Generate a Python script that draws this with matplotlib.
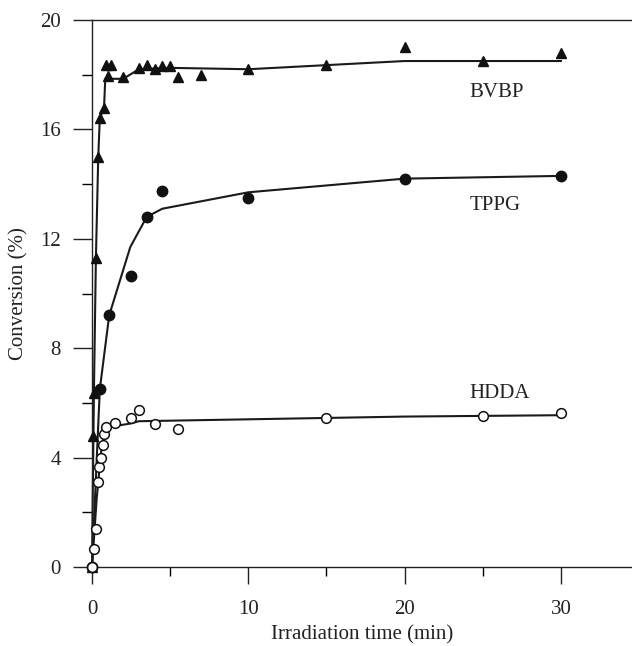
import matplotlib
matplotlib.use("Agg")
import matplotlib.pyplot as plt
from matplotlib.ticker import MultipleLocator

plt.rcParams['font.family'] = ['Liberation Serif', 'DejaVu Serif']

# ---- data: BVBP (filled triangles) ----
bvbp_t = [0, 0.08, 0.12, 0.25, 0.4, 0.5, 0.77, 0.9, 1.05, 1.2, 2.0, 3.0, 3.5, 4.0, 4.5, 5.0, 5.5, 7.0, 10, 15, 20, 25, 30]
bvbp_c = [0, 4.8, 6.35, 11.3, 15.0, 16.4, 16.8, 18.35, 17.95, 18.35, 17.9, 18.25, 18.35, 18.2, 18.3, 18.3, 17.9, 18.0, 18.2, 18.35, 19.0, 18.5, 18.8]
bvbp_fit_t = [0, 0.12, 0.25, 0.4, 0.5, 0.77, 0.85, 1.5, 2.0, 3.0, 5.0, 10, 20, 30]
bvbp_fit_c = [0, 6.3, 11.3, 15.0, 16.4, 16.8, 17.85, 17.85, 17.85, 18.2, 18.25, 18.2, 18.5, 18.5]

# ---- data: TPPG (filled circles) ----
tppg_t = [0, 0.5, 1.1, 2.5, 3.5, 4.5, 10, 20, 30]
tppg_c = [0, 6.5, 9.2, 10.65, 12.8, 13.75, 13.5, 14.2, 14.3]
tppg_fit_t = [0, 0.5, 1.1, 2.45, 3.5, 4.5, 10, 20, 30]
tppg_fit_c = [0, 6.5, 9.2, 11.7, 12.8, 13.1, 13.7, 14.2, 14.3]

# ---- data: HDDA (open circles) ----
hdda_t = [0, 0.13, 0.24, 0.36, 0.47, 0.55, 0.72, 0.79, 0.9, 1.5, 2.5, 3.0, 4.0, 5.5, 15, 25, 30]
hdda_c = [0, 0.66, 1.4, 3.1, 3.67, 4.0, 4.45, 4.85, 5.13, 5.25, 5.44, 5.74, 5.24, 5.03, 5.45, 5.53, 5.64]
hdda_fit_t = [0, 0.3, 0.6, 0.9, 2.5, 3.0, 5.0, 10, 20, 30]
hdda_fit_c = [0, 2.5, 4.3, 5.1, 5.25, 5.33, 5.35, 5.4, 5.5, 5.55]

labels = ["BVBP", "TPPG", "HDDA"]
label_pos = [(25.9, 17.35), (25.8, 13.2), (26.1, 6.33)]

x_ticks = [0, 10, 20, 30]
y_ticks = [0, 4, 8, 12, 16, 20]

fig = plt.figure(figsize=(6.32, 6.46), dpi=100)
ax = fig.add_axes([92/632, 79/646, 1 - 92/632, (567-20)/646])

lw = 1.5
ax.plot(bvbp_fit_t, bvbp_fit_c, color='#1a1a1a', lw=lw, zorder=2, clip_on=False)
ax.plot(tppg_fit_t, tppg_fit_c, color='#1a1a1a', lw=lw, zorder=2, clip_on=False)
ax.plot(hdda_fit_t, hdda_fit_c, color='#1a1a1a', lw=lw, zorder=2, clip_on=False)

ax.plot(bvbp_t, bvbp_c, ls='none', marker='^', ms=7.5, color='#111111', zorder=3, clip_on=False)
ax.plot(tppg_t, tppg_c, ls='none', marker='o', ms=7.5, color='#111111', zorder=3, clip_on=False)
ax.plot(hdda_t, hdda_c, ls='none', marker='o', ms=7, mfc='white', mec='#111111', mew=1.1, zorder=4, clip_on=False)

for lab, (lx, ly) in zip(labels, label_pos):
    ax.text(lx, ly, lab, ha='center', va='center', fontsize=15, color='#222222')

ax.set_xlim(0, 34.55)
ax.set_ylim(0, 20)
ax.set_xticks(x_ticks)
ax.set_yticks(y_ticks)
ax.xaxis.set_minor_locator(MultipleLocator(5))
ax.yaxis.set_minor_locator(MultipleLocator(2))

ax.spines['right'].set_visible(False)
for s in ['left', 'bottom', 'top']:
    ax.spines[s].set_linewidth(1.0)
    ax.spines[s].set_color('#222222')

ax.tick_params(axis='y', which='major', direction='out', length=13.5, width=1.0, pad=9, labelsize=15, colors='#222222')
ax.tick_params(axis='y', which='minor', direction='out', length=7, width=1.0)
ax.tick_params(axis='x', which='major', direction='out', length=12.5, width=1.0, pad=11, labelsize=15, colors='#222222')
ax.tick_params(axis='x', which='minor', direction='out', length=6.5, width=1.0)
ax.tick_params(top=False, right=False, which='both')

ax.set_xlabel("Irradiation time (min)", fontsize=15, color='#222222', labelpad=5)
ax.set_ylabel("Conversion (%)", fontsize=15, color='#222222', labelpad=8)

fig.savefig("out.png", dpi=100)
